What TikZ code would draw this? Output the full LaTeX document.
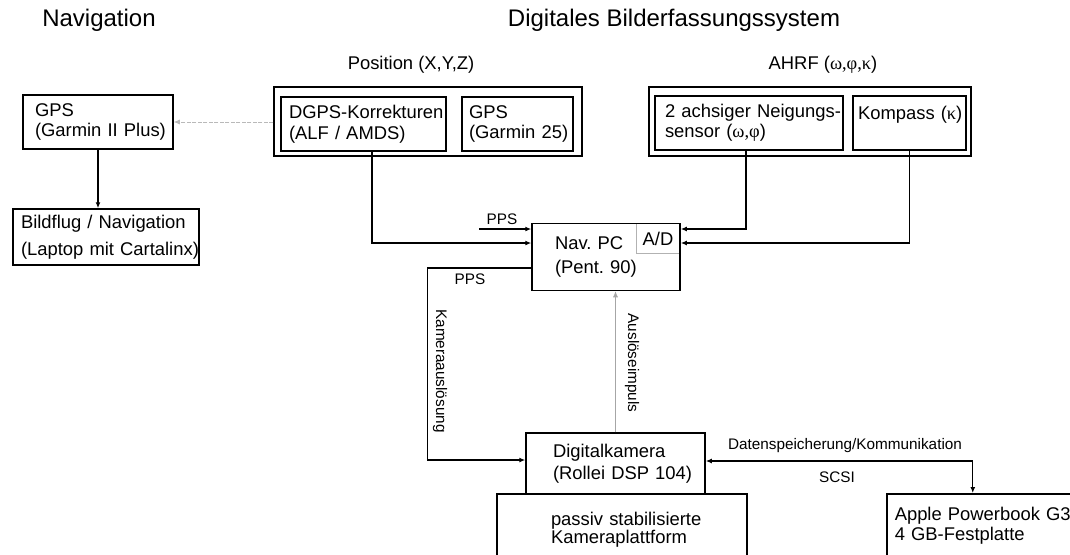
\documentclass[tikz,border=0pt]{standalone}
\usepackage{fontspec}
\setmainfont{Liberation Sans}
\newfontfamily\grfont{Liberation Serif}
\usetikzlibrary{arrows.meta}

\newcommand\gr[1]{{\grfont #1}}
\newcommand\titelfont{\fontsize{24}{28}\selectfont}
\newcommand\boxfont{\fontsize{18.4}{20.5}\selectfont}
\newcommand\kleinfont{\fontsize{15.3}{17}\selectfont}

\begin{document}
\frenchspacing
\begin{tikzpicture}[x=1pt,y=-1pt,
		kasten/.style={draw, line width=1.5pt, inner sep=0pt, align=left, font=\boxfont},
		rahmen/.style={draw, line width=1.5pt, inner sep=0pt},
		pfeil/.style={line width=1.3pt, -{Latex[length=6pt,width=5pt]}},
		beschr/.style={font=\kleinfont, inner sep=0pt}]
	\useasboundingbox (0,0) rectangle (1070,554);
	\clip (0,0) rectangle (1070,554);

	% Ueberschriften
	\node[font=\titelfont] (navtitel) at (99,20) {Navigation};
	\node[font=\titelfont] (systitel) at (674,20) {Digitales Bilderfassungssystem};
	\node[font=\boxfont] (postitel) at (411,65) {Position (X,Y,Z)};
	\node[font=\boxfont] (ahrftitel) at (823,65) {AHRF (\gr{ω,φ,κ})};

	% Navigation
	\node[kasten, minimum width=150pt, minimum height=54pt, text width=126pt] (gpsnav) at (98,122) {\mbox{GPS}\\\mbox{(Garmin II Plus)}};
	\node[kasten, minimum width=186pt, minimum height=56pt, text width=170pt] (bildflug) at (106,237) {\mbox{Bildflug / Navigation}\\[6pt]\mbox{(Laptop mit Cartalinx)}};

	% Position und AHRF
	\node[rahmen, minimum width=308pt, minimum height=69pt] (posrahmen) at (428,121.5) {};
	\node[kasten, minimum width=165pt, minimum height=54pt, text width=149pt] (dgps) at (363.5,124) {\mbox{DGPS-Korrekturen}\\\mbox{(ALF / AMDS)}};
	\node[kasten, minimum width=111pt, minimum height=54pt, text width=97pt] (gps25) at (517.5,124) {\mbox{GPS}\\\mbox{(Garmin 25)}};
	\node[rahmen, minimum width=322pt, minimum height=69pt] (ahrfrahmen) at (810,121.5) {};
	\node[kasten, minimum width=188pt, minimum height=54pt, text width=168pt] (neigung) at (749,123) {\mbox{2 achsiger Neigungs-}\\\mbox{sensor (\gr{ω,φ})}};
	\node[kasten, minimum width=113pt, minimum height=54pt, text width=103pt] (kompass) at (909.5,123) {\mbox{Kompass (\gr{κ})}\\~};

	% Rechner und Kamera
	\node[draw=gray!60, line width=0.6pt, minimum width=44pt, minimum height=30pt, inner sep=0pt, font=\boxfont] (ad) at (658,238.5) {A/D};
	\node[kasten, minimum width=148pt, minimum height=67pt, text width=102pt] (navpc) at (606,257) {\mbox{Nav. PC}\\[4pt]\mbox{(Pent. 90)}};
	\node[kasten, minimum width=179pt, minimum height=61pt, text width=125pt] (kamera) at (615.5,463.5) {\mbox{Digitalkamera}\\[1.5pt]\mbox{(Rollei DSP 104)}};
	\node[kasten, minimum width=250pt, minimum height=72pt, text width=142pt, font=\fontsize{18.4}{15}\selectfont] (plattform) at (622,530) {\mbox{passiv stabilisierte}\\\mbox{Kameraplattform}};
	\node[kasten, anchor=north west, inner xsep=8pt, text width=200pt, minimum height=64pt] (apple) at (886,493) {\mbox{Apple Powerbook G3}\\\mbox{4 GB-Festplatte}};

	% Verbindungen
	\draw[pfeil, line width=2.2pt] (gpsnav.south) -- (gpsnav.south |- bildflug.north);
	\draw[pfeil, gray!55, line width=0.7pt, dash pattern=on 4pt off 1.5pt] (posrahmen.west |- gpsnav.east) -- (gpsnav.east);
	\coordinate (ppsein) at (479,229);
	\draw[pfeil] (ppsein) -- (ppsein -| navpc.west);
	\node[beschr] (ppsoben) at (502,219) {PPS};
	\draw[pfeil] ([xshift=8.5pt]dgps.south) |- (navpc.west |- 0,243);
	\draw[pfeil] ([xshift=-3pt]neigung.south) |- (navpc.east |- ppsein);
	\draw[pfeil] (kompass.south) |- (navpc.east |- 0,243);
	\draw[pfeil] (navpc.west |- 0,268) -- ++(-104,0) |- ([yshift=3.5pt]kamera.west);
	\node[beschr] (ppsunten) at (470,279) {PPS};
	\node[beschr, rotate=-90] (kamauslabel) at (440,371) {Kameraauslösung};
	\draw[pfeil, gray!70, line width=0.7pt] (kamera.north) -- (kamera.north |- navpc.south);
	\node[beschr, rotate=-90] (auslabel) at (632,363) {Auslöseimpuls};
	\draw[pfeil, {Latex[length=6pt,width=5pt]}-{Latex[length=6pt,width=5pt]}] ([yshift=2.5pt]kamera.east) -| ([xshift=-22pt]apple.north);
	\node[beschr] (datenlabel) at (845,446) {Datenspeicherung/Kommunikation};
	\node[beschr] (scsilabel) at (837,477) {SCSI};
\end{tikzpicture}
\end{document}
